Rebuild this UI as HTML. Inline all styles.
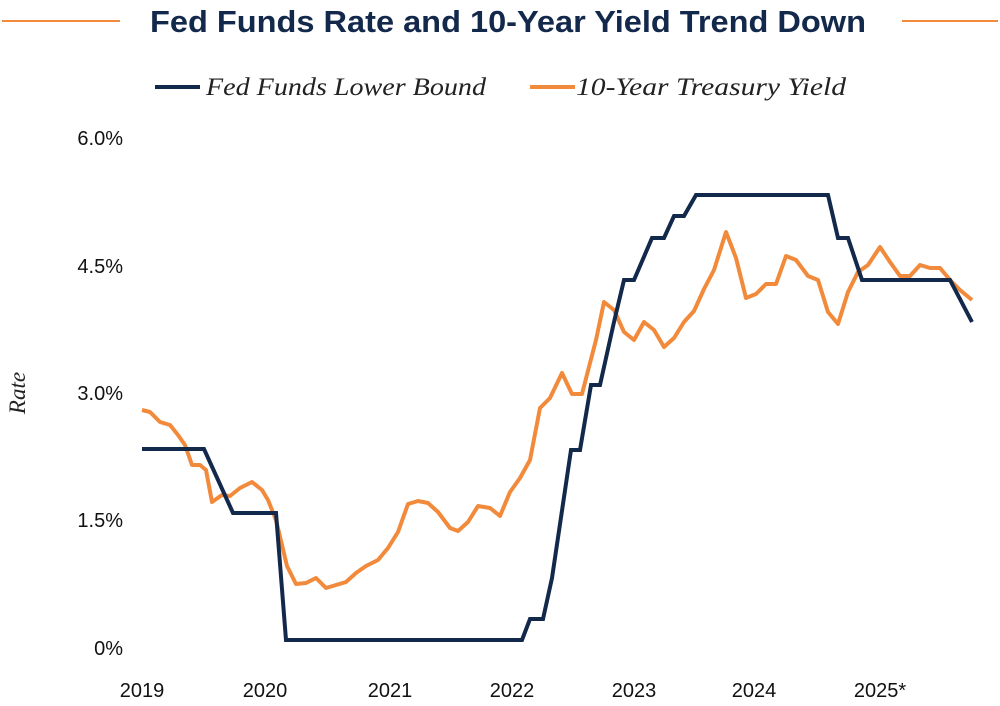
<!DOCTYPE html>
<html><head><meta charset="utf-8"><style>
body{margin:0;background:#fff;}
svg{display:block;}
</style></head><body>
<svg width="1000" height="706" viewBox="0 0 1000 706" xmlns="http://www.w3.org/2000/svg">
<line x1="2" y1="21" x2="120" y2="21" stroke="#f28a3c" stroke-width="2"/>
<line x1="902" y1="21" x2="998" y2="21" stroke="#f28a3c" stroke-width="2"/>
<text x="508" y="32" text-anchor="middle" font-family="Liberation Sans, sans-serif" font-weight="bold" font-size="31" fill="#13294b" textLength="716" lengthAdjust="spacingAndGlyphs">Fed Funds Rate and 10-Year Yield Trend Down</text>
<line x1="155" y1="87" x2="200" y2="87" stroke="#13294b" stroke-width="4"/>
<text x="206" y="95" font-family="Liberation Serif, serif" font-style="italic" font-size="25" fill="#222" textLength="280" lengthAdjust="spacingAndGlyphs">Fed Funds Lower Bound</text>
<line x1="530" y1="87" x2="575" y2="87" stroke="#f28a3c" stroke-width="4"/>
<text x="576" y="95" font-family="Liberation Serif, serif" font-style="italic" font-size="25" fill="#222" textLength="270" lengthAdjust="spacingAndGlyphs">10-Year Treasury Yield</text>
<g font-family="Liberation Sans, sans-serif" font-size="20" fill="#111" text-anchor="end">
<text x="123" y="145">6.0%</text>
<text x="123" y="273">4.5%</text>
<text x="123" y="400">3.0%</text>
<text x="123" y="527">1.5%</text>
<text x="123" y="655">0%</text>
</g>
<g font-family="Liberation Sans, sans-serif" font-size="20" fill="#111" text-anchor="middle">
<text x="142" y="697">2019</text>
<text x="265" y="697">2020</text>
<text x="390" y="697">2021</text>
<text x="512" y="697">2022</text>
<text x="634" y="697">2023</text>
<text x="754" y="697">2024</text>
<text x="880" y="697">2025*</text>
</g>
<text transform="translate(25,393) rotate(-90)" text-anchor="middle" font-family="Liberation Serif, serif" font-style="italic" font-size="23" fill="#222">Rate</text>
<polyline fill="none" stroke="#f28a3c" stroke-width="4" stroke-linejoin="round" points="142,410 150,412 160,422 170,425 178,435 185,445 192,465 200,465 206,470 212,502 222,495 230,496 240,488 252,482 262,490 268,500 276,520 282,545 287,566 296,584 306,583 316,578 326,588 336,585 346,582 356,573 366,566 378,560 388,548 398,532 408,504 418,501 428,503 438,512 450,528 458,531 468,522 478,506 490,508 500,516 510,492 520,478 530,460 540,408 550,398 562,373 572,394 582,394 590,363 596,340 604,302 614,310 624,332 634,340 644,322 654,330 664,347 674,338 684,322 694,311 704,289 714,270 726,232 736,258 746,298 756,294 766,284 776,284 786,256 796,260 808,276 818,280 828,312 838,324 848,292 858,272 868,265 880,247 890,262 900,276 910,276 920,265 930,268 940,268 950,280 960,290 972,300"/>
<polyline fill="none" stroke="#13294b" stroke-width="4" stroke-linejoin="miter" points="142,449 204,449 233,513 276,513 286,640 522,640 530,619 543,619 552,578 571,450 580,450 591,385 600,385 614,322 624,280 634,280 652,238 664,238 674,216 684,216 696,195 828,195 838,238 848,238 862,280 950,280 972,322"/>
</svg>
</body></html>
